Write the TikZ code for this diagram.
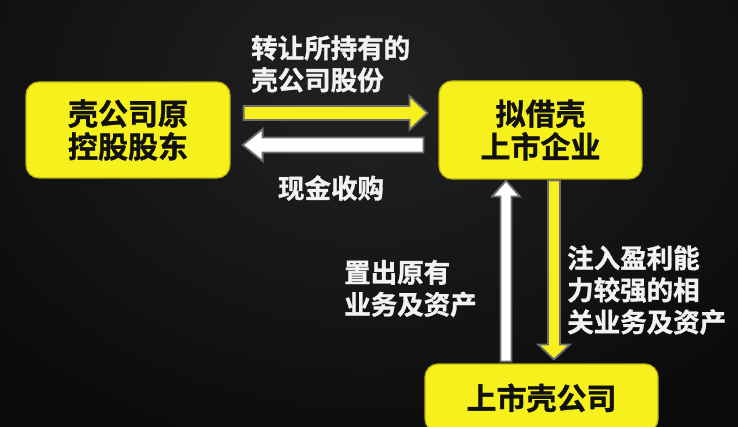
\documentclass[tikz,border=0pt]{standalone}
\usepackage{fontspec}
\newfontfamily\cjk{Noto Sans CJK SC}[BoldFont={* Bold}, BoldFeatures={FakeBold=1.2}]
\usetikzlibrary{calc}
\definecolor{bgdark}{HTML}{0A0A0A}
\definecolor{bglight}{HTML}{222222}
\definecolor{boxyellow}{HTML}{F6F11C}
\definecolor{boxedge}{HTML}{B8B010}
\definecolor{arrowedge}{HTML}{6E6E6E}
\definecolor{labelwhite}{HTML}{F2F2F2}
\definecolor{boxtext}{HTML}{111111}
\newcommand\fatarrow[6]{%
  \draw[#1] let \p1=($(#3)-(#2)$), \n1={veclen(\x1,\y1)}, \n2={atan2(\y1,\x1)} in
    [shift={(#2)}, rotate=\n2]
    (0pt,-#4pt) -- (\n1-#6pt,-#4pt) -- (\n1-#6pt,-#5pt) -- (\n1,0pt)
    -- (\n1-#6pt,#5pt) -- (\n1-#6pt,#4pt) -- (0pt,#4pt) -- cycle;}
\tikzset{
  yellowbox/.style={draw=boxedge, line width=1.2pt, fill=boxyellow, rounded corners=13pt,
    text=boxtext, font=\cjk\bfseries\fontsize{30}{33}\selectfont, align=center,
    inner sep=0pt},
  label/.style={text=labelwhite, font=\cjk\bfseries\fontsize{26.5}{32}\selectfont,
    align=left, inner sep=0pt},
  yarrow/.style={fill=boxyellow, draw=arrowedge, line width=1.8pt, line join=miter},
  warrow/.style={fill=white, draw=arrowedge, line width=1.8pt, line join=miter},
}
\begin{document}
\begin{tikzpicture}[x=1pt,y=-1pt]
\useasboundingbox (0,0) rectangle (738,427);
\shade[inner color=bglight, outer color=bgdark] (-150,-300) rectangle (888,480);
% boxes
\node[yellowbox, minimum width=204pt, minimum height=96pt] (L) at (128,130) {壳公司原\\控股股东};
\node[yellowbox, minimum width=203pt, minimum height=98pt] (R) at (540.5,130) {拟借壳\\上市企业};
\node[yellowbox, minimum width=233pt, minimum height=68pt] (B) at (541.5,398) {上市壳公司};
% arrow end points
\coordinate (ys) at ($(L.east)+(13,-17)$);
\coordinate (ye) at ($(R.west)+(-11,-17)$);
\coordinate (ws) at ($(R.west)+(-15,15)$);
\coordinate (we) at ($(L.east)+(12,15)$);
\coordinate (us) at ($(B.north)+(-35.5,-2)$);
\coordinate (ue) at ($(R.south)+(-34.5,1)$);
\coordinate (ds) at ($(R.south)+(13.5,1)$);
\coordinate (de) at ($(B.north)+(12.5,-4)$);
% arrows
\fatarrow{yarrow}{ys}{ye}{7}{17}{18}
\fatarrow{warrow}{ws}{we}{7.5}{16}{20}
\fatarrow{warrow}{us}{ue}{5.5}{14}{16}
\fatarrow{yarrow}{ds}{de}{6}{16}{15}
% labels
\node[label, anchor=west] (t1) at (251,64) {转让所持有的\\壳公司股份};
\node[label] (t2) at (331,188) {现金收购};
\node[label, anchor=west] (t3) at (344,288.5) {置出原有\\业务及资产};
\node[label, anchor=west] (t4) at (567,290) {注入盈利能\\力较强的相\\关业务及资产};
\end{tikzpicture}
\end{document}
